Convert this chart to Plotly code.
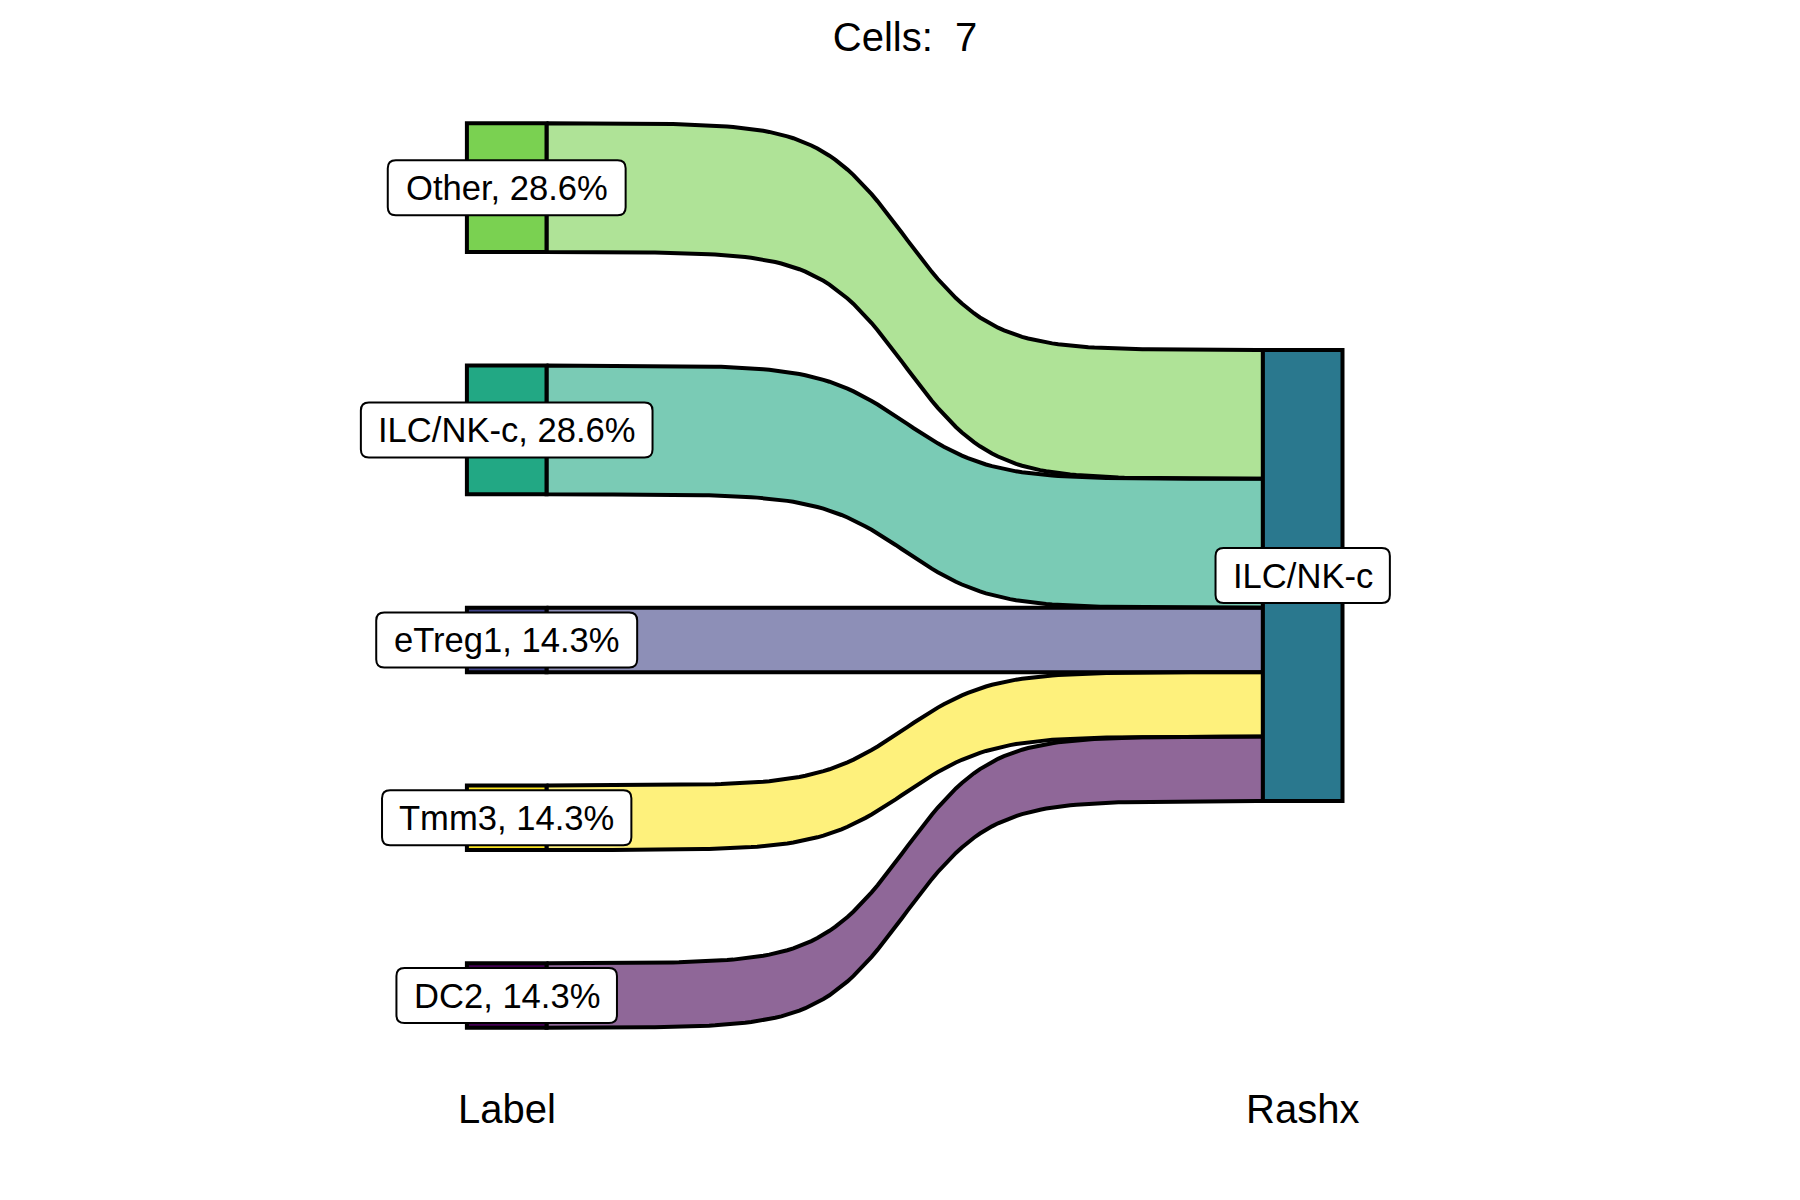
import numpy as np
import plotly.graph_objects as go

# ---------------- data ----------------
left_labels = ["Other", "ILC/NK-c", "eTreg1", "Tmm3", "DC2"]   # top to bottom
left_counts = [2, 2, 1, 1, 1]
right_labels = ["ILC/NK-c"]
flow_src = ["Other", "ILC/NK-c", "eTreg1", "Tmm3", "DC2"]
flow_dst = ["ILC/NK-c", "ILC/NK-c", "ILC/NK-c", "ILC/NK-c", "ILC/NK-c"]
flow_n = [2, 2, 1, 1, 1]
axis_names = ["Label", "Rashx"]
left_colors = {"Other": "#7AD151", "ILC/NK-c": "#22A884", "eTreg1": "#414487",
               "Tmm3": "#FDE725", "DC2": "#440154"}
right_colors = {"ILC/NK-c": "#2A788E"}

# ---------------- layout params ----------------
W = 0.1          # stratum width (x units)
GAP = 1.76       # gap between left strata (count units)
ALPHA = 0.6
S = 17.0         # steepness of flow curve
FONT = "Liberation Sans, Arial, sans-serif"
LABEL_SIZE = 34.6
OFF = 8          # page offset of the plot in the browser

total = sum(left_counts)
right_counts = [sum(n for d, n in zip(flow_dst, flow_n) if d == r) for r in right_labels]

# left strata positions
span = total + GAP * (len(left_labels) - 1)
cur = total / 2 + span / 2
left_pos = {}
for lab, c in zip(left_labels, left_counts):
    left_pos[lab] = (cur - c, cur)
    cur = cur - c - GAP

# right strata positions
cur = total
right_pos = {}
for lab, c in zip(right_labels, right_counts):
    right_pos[lab] = (cur - c, cur)
    cur -= c


def hex_rgba(h, a):
    h = h.lstrip("#")
    return "rgba(%d,%d,%d,%.2f)" % (int(h[0:2], 16), int(h[2:4], 16), int(h[4:6], 16), a)


fig = go.Figure()

# flows
left_cursor = {k: v[1] for k, v in left_pos.items()}
right_cursor = {k: v[1] for k, v in right_pos.items()}
f = np.linspace(0, 1, 120)
Lf = 1 / (1 + np.exp(-S * (f - 0.5)))
g = (Lf - Lf[0]) / (Lf[-1] - Lf[0])
x0, x1 = 1 + W / 2, 2 - W / 2
xs_curve = x0 + f * (x1 - x0)
for src, dst, n in zip(flow_src, flow_dst, flow_n):
    lt = left_cursor[src]; lb = lt - n; left_cursor[src] = lb
    rt = right_cursor[dst]; rb = rt - n; right_cursor[dst] = rb
    top = lt + g * (rt - lt)
    bot = lb + g * (rb - lb)
    xs = np.concatenate([xs_curve, xs_curve[::-1], xs_curve[:1]])
    ys = np.concatenate([top, bot[::-1], top[:1]])
    fig.add_trace(go.Scatter(x=xs, y=ys, mode="lines", fill="toself",
                             fillcolor=hex_rgba(left_colors[src], ALPHA),
                             line=dict(color="black", width=4),
                             hoverinfo="skip", showlegend=False))

shapes = []
# strata
for lab in left_labels:
    y0, y1 = left_pos[lab]
    shapes.append(dict(type="rect", xref="x", yref="y", x0=1 - W / 2, x1=1 + W / 2, y0=y0, y1=y1,
                       fillcolor=left_colors[lab], line=dict(color="black", width=4), layer="above"))
for lab in right_labels:
    y0, y1 = right_pos[lab]
    shapes.append(dict(type="rect", xref="x", yref="y", x0=2 - W / 2, x1=2 + W / 2, y0=y0, y1=y1,
                       fillcolor=right_colors[lab], line=dict(color="black", width=4), layer="above"))

# text width estimation (Arial metrics)
AW = {' ': 278, '%': 889, ',': 278, '-': 333, '.': 278, '/': 278, 'C': 722, 'D': 722, 'I': 278,
      'K': 667, 'L': 556, 'N': 722, 'O': 778, 'T': 611, 'c': 500, 'e': 556, 'g': 556, 'h': 556,
      'm': 833, 'r': 333, 't': 278}


def text_w(s, size):
    return sum(AW.get(ch, 556) for ch in s) / 1000 * size


def rrect(hw, hh, r):
    return (f"M {-hw + r},{-hh} L {hw - r},{-hh} Q {hw},{-hh} {hw},{-hh + r} "
            f"L {hw},{hh - r} Q {hw},{hh} {hw - r},{hh} L {-hw + r},{hh} "
            f"Q {-hw},{hh} {-hw},{hh - r} L {-hw},{-hh + r} Q {-hw},{-hh} {-hw + r},{-hh} Z")


annotations = []


def add_label(x, y, txt):
    hw = (text_w(txt, LABEL_SIZE) + 34) / 2
    hh = 27.5
    shapes.append(dict(type="path", xref="x", yref="y", xsizemode="pixel", ysizemode="pixel",
                       xanchor=x, yanchor=y, path=rrect(hw, hh, 8),
                       fillcolor="white", line=dict(color="black", width=2), layer="above"))
    annotations.append(dict(x=x, y=y, xref="x", yref="y", text=txt, showarrow=False,
                            xanchor="center", yanchor="middle",
                            font=dict(family=FONT, size=LABEL_SIZE, color="black")))


for lab, c in zip(left_labels, left_counts):
    y0, y1 = left_pos[lab]
    add_label(1, (y0 + y1) / 2, f"{lab}, {c / total * 100:.1f}%")
for lab in right_labels:
    y0, y1 = right_pos[lab]
    add_label(2, (y0 + y1) / 2, lab)

# axis names
for i, name in enumerate(axis_names):
    annotations.append(dict(x=i + 1, y=-4.78, xref="x", yref="y", text=name, showarrow=False,
                            xanchor="center", yanchor="middle",
                            font=dict(family=FONT, size=40, color="black")))

PXU = 64.43
xmin = 1 - (506.7 - OFF) / 796
ymax = (801 - OFF) / PXU
fig.update_layout(
    width=1800, height=1200,
    margin=dict(l=0, r=0, t=0, b=0),
    paper_bgcolor="white", plot_bgcolor="white",
    title=dict(text="Cells: \u00a07", x=(905 - OFF) / 1800, xanchor="center", y=1 - (37 - OFF) / 1200,
               yanchor="middle", yref="container", font=dict(family=FONT, size=40, color="black")),
    xaxis=dict(range=[xmin, xmin + 1800 / 796], visible=False, fixedrange=True),
    yaxis=dict(range=[ymax - 1200 / PXU, ymax], visible=False, fixedrange=True),
    shapes=shapes, annotations=annotations, showlegend=False,
)

fig.write_html("out.html")
